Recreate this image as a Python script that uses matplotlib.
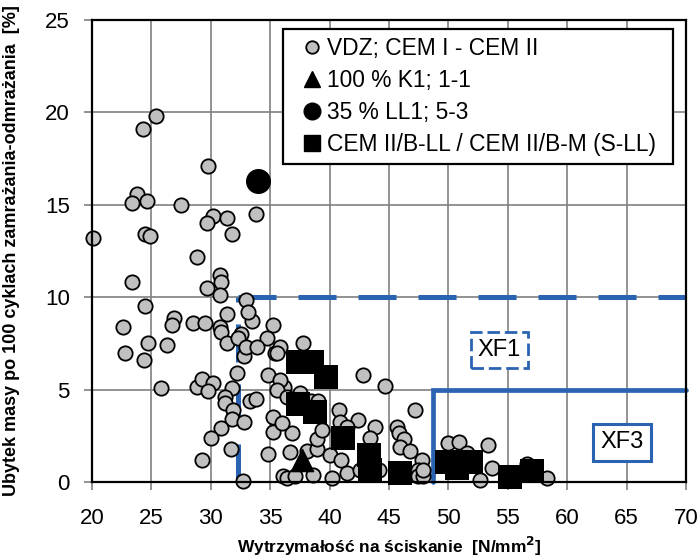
import matplotlib.pyplot as plt
from matplotlib.lines import Line2D

plt.rcParams['font.family'] = ['Liberation Sans', 'DejaVu Sans']
plt.rcParams['lines.scale_dashes'] = False

# VDZ; CEM I - CEM II  (wytrzymałość [N/mm2], ubytek masy [%])
vdz_x = [20.1, 23.8, 24.3, 25.4, 29.8, 23.4, 24.6, 27.5, 30.2, 29.7, 31.4, 31.8,
         33.8, 24.5, 24.9, 28.8, 30.8, 30.9, 29.7, 30.8, 23.4, 33.0, 24.5, 22.6,
         26.9, 26.7, 28.5, 29.5, 30.8, 31.4, 30.9, 33.5, 33.1, 32.5, 35.2, 34.7,
         24.7, 26.3, 22.8, 24.4, 25.8, 28.8, 29.3, 30.2, 29.8, 31.4, 32.3, 32.8,
         33.0, 33.9, 35.4, 32.2, 31.8, 31.2, 31.2, 31.9, 31.8, 32.8, 33.3, 33.8,
         30.9, 30.0, 31.7, 29.3, 32.7, 34.8, 36.0, 35.2, 35.2, 34.8, 36.1, 37.8,
         35.8, 35.6, 36.2, 35.8, 35.6, 36.4, 37.5, 38.4, 39.0, 42.8, 44.7, 47.2,
         40.8, 40.9, 42.4, 43.8, 45.7, 45.8, 46.3, 45.9, 46.8, 47.8, 47.4, 47.4,
         47.9, 36.8, 36.0, 36.7, 38.1, 38.9, 40.0, 38.9, 39.4, 41.0, 36.4, 37.1,
         38.6, 40.2, 41.5, 42.6, 44.2, 41.5, 43.4, 50.0, 50.9, 53.3, 51.6, 52.7,
         53.7, 56.6, 58.3, 47.9]
vdz_y = [13.2, 15.6, 19.1, 19.8, 17.1, 15.1, 15.2, 15.0, 14.4, 14.0, 14.3, 13.4,
         14.5, 13.4, 13.3, 12.2, 11.2, 10.8, 10.5, 10.1, 10.8, 9.85, 9.5, 8.4,
         8.9, 8.5, 8.6, 8.6, 8.4, 9.1, 8.1, 8.7, 9.2, 8.0, 8.5, 7.8,
         7.5, 7.4, 7.0, 6.6, 5.1, 5.15, 5.6, 5.35, 4.9, 7.5, 7.8, 6.8,
         7.3, 7.3, 7.0, 5.9, 5.1, 4.6, 4.3, 3.9, 3.4, 3.25, 4.4, 4.5,
         2.9, 2.4, 1.8, 1.2, 0.05, 5.8, 5.1, 3.5, 2.7, 1.5, 0.3, 7.5,
         7.3, 7.0, 5.15, 5.5, 5.0, 4.6, 4.8, 4.4, 4.4, 5.8, 5.2, 3.9,
         3.9, 3.25, 3.35, 3.0, 3.0, 2.65, 2.3, 1.9, 1.7, 1.2, 0.65, 0.3,
         0.3, 2.65, 3.2, 1.6, 1.7, 1.8, 1.45, 2.3, 2.8, 1.2, 0.2, 0.3,
         0.4, 0.2, 0.5, 0.65, 0.65, 3.0, 2.4, 2.1, 2.15, 2.0, 1.55, 0.1,
         0.75, 1.0, 0.2, 0.65]

# 100 % K1; 1-1
k1_x = [37.7]
k1_y = [1.2]

# 35 % LL1; 5-3
ll1_x = [34.0]
ll1_y = [16.3]

# CEM II/B-LL / CEM II/B-M (S-LL)
cem_x = [37.3, 38.5, 39.7, 37.3, 38.8, 41.1, 43.3, 43.4, 45.9, 49.9, 51.9, 50.7,
         55.2, 57.0]
cem_y = [6.5, 6.5, 5.7, 4.2, 3.8, 2.4, 1.45, 0.65, 0.5, 1.1, 1.1, 0.75,
         0.27, 0.6]

# granice klas ekspozycji
xf1_strength, xf1_loss = 32.3, 10.0
xf3_strength, xf3_loss = 48.7, 5.0
x_max, y_max = 70, 25

blue = '#2b63b3'
gray = '#c0c0c0'

fig = plt.figure(figsize=(7, 5.6), dpi=100)
ax = fig.add_axes([92 / 700, 1 - 482 / 560, 594 / 700, 462 / 560])

ax.set_xlim(20, x_max)
ax.set_ylim(0, y_max)
ax.set_xticks(range(20, 71, 5))
ax.set_yticks(range(0, 26, 5))
ax.grid(True, color='#808080', linewidth=1.2, zorder=0)
ax.set_axisbelow(True)

# XF1 - linia przerywana
ax.plot([xf1_strength, xf1_strength], [0, xf1_loss], color=blue, lw=3.6,
        dashes=(27.4, 15.8), dash_capstyle='butt', zorder=2)
ax.plot([xf1_strength, x_max], [xf1_loss, xf1_loss], color=blue, lw=3.6,
        dashes=(27.4, 15.8), dash_capstyle='butt', zorder=2, clip_on=False)
# XF3 - linia ciągła
ax.plot([xf3_strength, xf3_strength, x_max], [0, xf3_loss, xf3_loss],
        color=blue, lw=3.4, solid_capstyle='round', solid_joinstyle='miter',
        zorder=2, clip_on=False)

ax.scatter(vdz_x, vdz_y, s=10.3 ** 2, color=gray, edgecolor='black',
           linewidth=1.3, zorder=3, clip_on=False)
ax.scatter(cem_x, cem_y, marker='s', s=17 ** 2, color='black',
           edgecolor='black', linewidth=0, zorder=4, clip_on=False)
ax.scatter(k1_x, k1_y, marker='^', s=16 ** 2, color='black', zorder=4,
           clip_on=False)
ax.scatter(ll1_x, ll1_y, marker='o', s=17 ** 2, color='black', zorder=4,
           clip_on=False)

ax.text(54.3, 7.15, 'XF1', fontsize=17, ha='center', va='center', zorder=5,
        bbox=dict(boxstyle='square,pad=0.3', facecolor='white', edgecolor=blue,
                  linewidth=2, linestyle=(0, (9, 3.5))))
ax.text(64.6, 2.14, 'XF3', fontsize=17, ha='center', va='center', zorder=5,
        bbox=dict(boxstyle='square,pad=0.3', facecolor='white', edgecolor=blue,
                  linewidth=2.2))

for s in ax.spines.values():
    s.set_color('black')
    s.set_linewidth(1.6)
    s.set_zorder(6)

ax.tick_params(axis='both', direction='out', length=6, width=1.2,
               color='#808080', labelsize=16)
ax.tick_params(axis='x', pad=13)
ax.tick_params(axis='y', pad=10)

ax.set_xlabel('Wytrzymałość na ściskanie  [N/mm$^\\mathbf{2}$]',
              fontsize=12.5, fontweight='bold')
ax.set_ylabel('Ubytek masy po 100 cyklach zamrażania-odmrażania  [%]',
              fontsize=13, fontweight='bold')
ax.xaxis.set_label_coords(0.5, -0.115)
ax.yaxis.set_label_coords(-0.121, 0.5)

handles = [
    Line2D([], [], ls='none', marker='o', ms=9, mfc=gray, mec='black', mew=1.3),
    Line2D([], [], ls='none', marker='^', ms=11, mfc='black', mec='black'),
    Line2D([], [], ls='none', marker='o', ms=12, mfc='black', mec='black'),
    Line2D([], [], ls='none', marker='s', ms=12, mfc='black', mec='black'),
]
labels = ['VDZ; CEM I - CEM II', '100 % K1; 1-1', '35 % LL1; 5-3',
          'CEM II/B-LL / CEM II/B-M (S-LL)']
leg = ax.legend(handles, labels, loc='upper left',
                bbox_to_anchor=(0.3215, 0, 0.6565, 0.9805), mode='expand',
                borderaxespad=0, fontsize=16.4, frameon=True, fancybox=False,
                framealpha=1, edgecolor='black', handlelength=1.85,
                handletextpad=-0.26, labelspacing=0.4, borderpad=0.35)
leg.get_frame().set_linewidth(1.6)
leg.set_zorder(7)

fig.savefig('out.png', dpi=100)
